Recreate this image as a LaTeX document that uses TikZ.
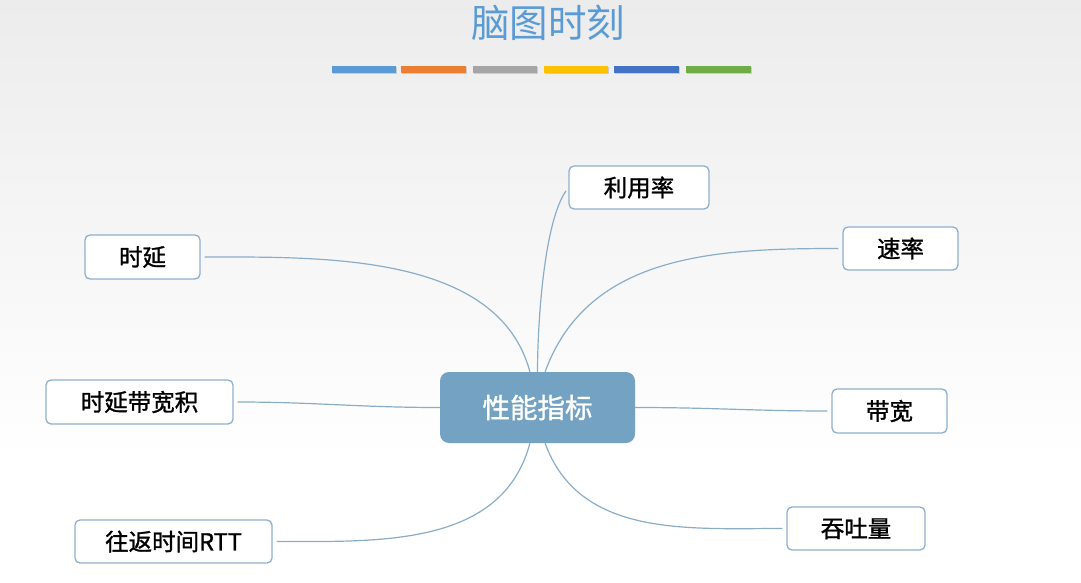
\documentclass[tikz,border=0pt]{standalone}
\usepackage{fontspec}
\setmainfont{Noto Sans CJK SC}
\newfontfamily\cjk[FakeBold=1.2]{Noto Sans CJK SC}
\newfontfamily\cjktitle{Noto Sans CJK SC}
\definecolor{titleblue}{HTML}{5B9BD5}
\definecolor{barorange}{HTML}{ED7D31}
\definecolor{bargray}{HTML}{A5A5A5}
\definecolor{baryellow}{HTML}{FFC000}
\definecolor{barblue}{HTML}{4472C4}
\definecolor{bargreen}{HTML}{70AD47}
\definecolor{centerfill}{HTML}{74A2C2}
\definecolor{leafborder}{HTML}{8FB0CC}
\definecolor{linkcol}{HTML}{8AAEC8}
\definecolor{bgtop}{HTML}{ECECEC}
\tikzset{
  leaf/.style={draw=leafborder, line width=1.3pt, fill=white, rounded corners=5pt,
    inner sep=0pt, font=\cjk\fontsize{23.5}{26}\selectfont, text=black},
  centerbox/.style={fill=centerfill, rounded corners=9pt, inner sep=0pt,
    minimum width=195pt, minimum height=71pt, font=\cjk\fontsize{27.5}{30}\selectfont, text=white},
  link/.style={draw=linkcol, line width=1.2pt, shorten <=4pt},
  colorbar/.style={minimum height=7pt, inner sep=0pt, anchor=west},
}
\begin{document}
\begin{tikzpicture}[x=1pt,y=-1pt]
\useasboundingbox (0,0) rectangle (1081,583);
\shade[top color=bgtop, bottom color=white] (0,0) rectangle (1081,460);
\fill[white] (0,460) rectangle (1081,583);
% title
\node[font=\cjktitle\fontsize{38.5}{42}\selectfont, text=titleblue] (title) at (548,23) {脑图时刻};
% bars
\foreach \x/\w/\c [count=\i] in {332/64/titleblue,401/65/barorange,473/64/bargray,544/64/baryellow,614/65/barblue,686/65/bargreen}{
  \fill[black!20] (\x+1,67.5) rectangle (\x+\w+1,74.5);
  \node[colorbar, fill=\c, minimum width=\w pt] (bar\i) at (\x,69.5) {};
}
% center
\node[centerbox] (c) at (537.5,407.5) {性能指标};
% leaves
\node[leaf, minimum width=140pt, minimum height=43pt] (u) at (639,187.5) {利用率};
\node[leaf, minimum width=115pt, minimum height=43pt] (s) at (900.5,248.5) {速率};
\node[leaf, minimum width=115pt, minimum height=44pt] (b) at (889.5,411) {带宽};
\node[leaf, minimum width=138pt, minimum height=43pt] (q) at (856,528.5) {吞吐量};
\node[leaf, minimum width=197pt, minimum height=43pt] (r) at (173.5,541.5) {往返时间RTT};
\node[leaf, minimum width=187pt, minimum height=44pt] (d) at (139.5,402) {时延带宽积};
\node[leaf, minimum width=115pt, minimum height=44pt] (t) at (142.5,257) {时延};
% links
\draw[link] (t.east) to[out=0,in=105,looseness=0.9] (c.102);
\draw[link] (u.west) to[out=235,in=90,looseness=0.6] (c.90);
\draw[link] (s.west) to[out=180,in=70,looseness=1] (c.78);
\draw[link] (d.east) to[out=0,in=180] (c.west);
\draw[link, shorten <=0pt, shorten >=4pt] (c.east) to[out=0,in=180] (b.west);
\draw[link] (r.east) to[out=0,in=255,looseness=1] (c.258);
\draw[link] (q.west) to[out=180,in=290,looseness=1] (c.282);
\end{tikzpicture}
\end{document}
